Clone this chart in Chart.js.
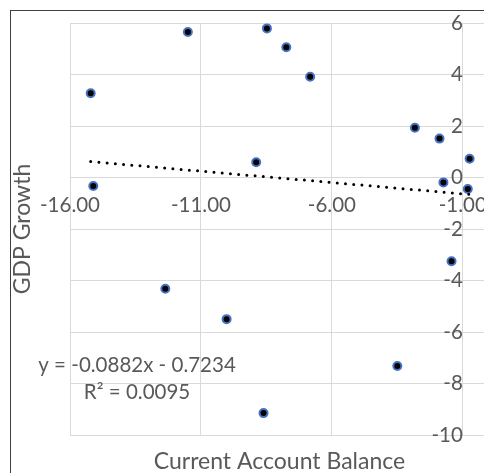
<!DOCTYPE html>
<html><head><meta charset="utf-8">
<script src="https://cdn.jsdelivr.net/npm/chart.js@4"></script>
<style>
html,body{margin:0;padding:0;overflow:hidden;background:#fff;width:484px;height:473px;}
#wrap{position:absolute;left:0;top:0;width:489px;height:473px;}
#frame{position:absolute;left:10px;top:10px;width:600px;height:600px;border-left:1px solid #404040;border-top:1px solid #404040;pointer-events:none;}
</style></head><body>
<div id="wrap"><canvas id="c"></canvas></div>
<div id="frame"></div>
<script>
// ---- data ----
const xValues = [-15.21, -15.11, -11.50, -8.48, -7.74, -6.83, -8.89, -12.36, -10.02, -8.61, -3.50, -2.83, -1.89, -1.74, -0.74, -0.81, -1.43];
const yValues = [3.27, -0.33, 5.65, 5.79, 5.06, 3.91, 0.59, -4.32, -5.50, -9.15, -7.32, 1.93, 1.51, -0.19, 0.73, -0.45, -3.25];
const xTickValues = [-16, -11, -6, -1];
const yTickValues = [-10, -8, -6, -4, -2, 0, 2, 4, 6];
const trendSlope = -0.0882;
const trendIntercept = -0.7234;
const rSquared = 0.0095;
const xAxisTitle = 'Current Account Balance';
const yAxisTitle = 'GDP Growth';
const eqAnchor = {x: -13.44, y: -7.84};

const TXT = '#595959', GRID = '#d9d9d9', FONT = 'Lato';
const TICK_SIZE = 20.5, TITLE_SIZE = 23;

const points = xValues.map((x, i) => ({x: x, y: yValues[i]}));
const xMin = Math.min(...xValues), xMax = Math.max(...xValues);
const trend = [xMin, xMax].map(x => ({x: x, y: trendSlope * x + trendIntercept}));
const eqLine1 = 'y = ' + trendSlope.toFixed(4) + 'x ' + (trendIntercept < 0 ? '- ' : '+ ') + Math.abs(trendIntercept).toFixed(4);
const eqLine2 = 'R\u00B2 = ' + rSquared.toFixed(4);

const eqLabel = {
  id: 'eqLabel',
  afterDatasetsDraw(chart) {
    const {ctx, scales} = chart;
    const cx = scales.x.getPixelForValue(eqAnchor.x);
    const cy = scales.y.getPixelForValue(eqAnchor.y);
    ctx.save();
    ctx.font = TICK_SIZE + 'px ' + FONT;
    ctx.fillStyle = TXT;
    ctx.textAlign = 'center';
    ctx.textBaseline = 'middle';
    ctx.fillText(eqLine1, cx, cy - 13.5);
    ctx.fillText(eqLine2, cx, cy + 13.5);
    ctx.restore();
  }
};

function draw() {
  new Chart(document.getElementById('c'), {
    type: 'scatter',
    data: {
      datasets: [
        {type: 'line', data: trend, borderColor: '#000', borderWidth: 3, borderDash: [0, 8.25], borderCapStyle: 'round', pointRadius: 0, fill: false, order: 1},
        {type: 'scatter', data: points, pointRadius: 4, pointHoverRadius: 4, pointBorderWidth: 2, pointBorderColor: '#4472C4', pointBackgroundColor: '#000', order: 2}
      ]
    },
    options: {
      responsive: true,
      maintainAspectRatio: false,
      animation: false,
      events: [],
      layout: {autoPadding: false, padding: {top: 23, left: 0, right: 0, bottom: -2.6}},
      scales: {
        x: {
          type: 'linear', min: -16, max: 0, position: {y: 0},
          afterBuildTicks: s => { s.ticks = xTickValues.map(v => ({value: v})); },
          grid: {color: GRID, drawTicks: false, lineWidth: 1},
          border: {color: GRID},
          ticks: {padding: 0, maxRotation: 0, autoSkip: false, color: TXT,
                  font: {family: FONT, size: TICK_SIZE, lineHeight: 2.75},
                  callback: v => Number(v).toFixed(2)}
        },
        y: {
          type: 'linear', min: -10, max: 6, position: {x: -1},
          afterBuildTicks: s => { s.ticks = yTickValues.map(v => ({value: v})); },
          grid: {color: GRID, drawTicks: false, lineWidth: 1},
          border: {color: GRID},
          ticks: {padding: 0, autoSkip: false, color: TXT, font: {family: FONT, size: TICK_SIZE},
                  callback: v => String(v)}
        }
      },
      plugins: {
        legend: {display: false},
        tooltip: {enabled: false},
        title: {display: true, text: xAxisTitle, position: 'bottom', fullSize: false, color: TXT,
                font: {family: FONT, size: TITLE_SIZE, weight: 'normal', lineHeight: 1.2}, padding: {top: 13.0, bottom: 0}},
        subtitle: {display: true, text: yAxisTitle, position: 'left', fullSize: false, color: TXT,
                font: {family: FONT, size: TITLE_SIZE, weight: 'normal', lineHeight: 1.2}, padding: {top: 8.6, bottom: 33.8}}
      }
    },
    plugins: [eqLabel]
  });
}
if (document.fonts && document.fonts.load) {
  Promise.all([document.fonts.load(TICK_SIZE + 'px Lato'), document.fonts.load(TITLE_SIZE + 'px Lato')]).then(draw, draw);
} else { draw(); }
</script>
</body></html>
